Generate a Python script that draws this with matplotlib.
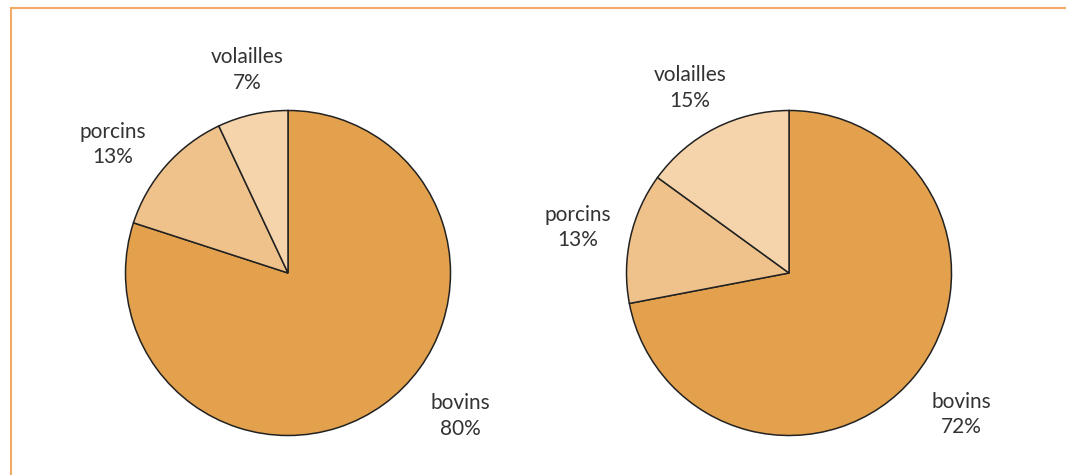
import matplotlib
matplotlib.use("Agg")
import matplotlib.pyplot as plt
from matplotlib.lines import Line2D

# ── Data ──────────────────────────────────────────────────────────────────────
categories = ["bovins", "porcins", "volailles"]
left_values = [80, 13, 7]
right_values = [72, 13, 15]
colors = ["#E3A14E", "#EFC28C", "#F5D4AC"]

# label anchors (in pie radius units), per chart
left_label_pos = [(1.06, -0.88), (-1.08, 0.79), (-0.25, 1.25)]
right_label_pos = [(1.06, -0.87), (-1.30, 0.28), (-0.61, 1.14)]

plt.rcParams["font.family"] = ["Lato", "DejaVu Sans"]

W, H = 1066, 475
fig = plt.figure(figsize=(W / 100, H / 100), dpi=100)


def add_pie(cx, cy, r, values, label_pos):
    ax = fig.add_axes([(cx - r) / W, (H - cy - r) / H, 2 * r / W, 2 * r / H])
    ax.pie(values, colors=colors, startangle=90, counterclock=False, radius=1,
           wedgeprops=dict(edgecolor="#222222", linewidth=1.1))
    ax.set_xlim(-1, 1)
    ax.set_ylim(-1, 1)
    ax.set_aspect("equal")
    ax.axis("off")
    for cat, val, (x, y) in zip(categories, values, label_pos):
        ax.text(x, y, f"{cat}\n{val}%", ha="center", va="center",
                fontsize=15, color="#333333", linespacing=1.35, clip_on=False)
    return ax


add_pie(288, 273, 162.5, left_values, left_label_pos)
add_pie(789, 273, 162.5, right_values, right_label_pos)

# orange frame: top and left edges only
frame_col = "#F0AA66"
fig.add_artist(Line2D([11 / W, 1], [1 - 8 / H, 1 - 8 / H], color=frame_col, lw=1.5))
fig.add_artist(Line2D([11 / W, 11 / W], [0, 1 - 8 / H], color=frame_col, lw=1.5))

fig.savefig("out.png", dpi=100)
